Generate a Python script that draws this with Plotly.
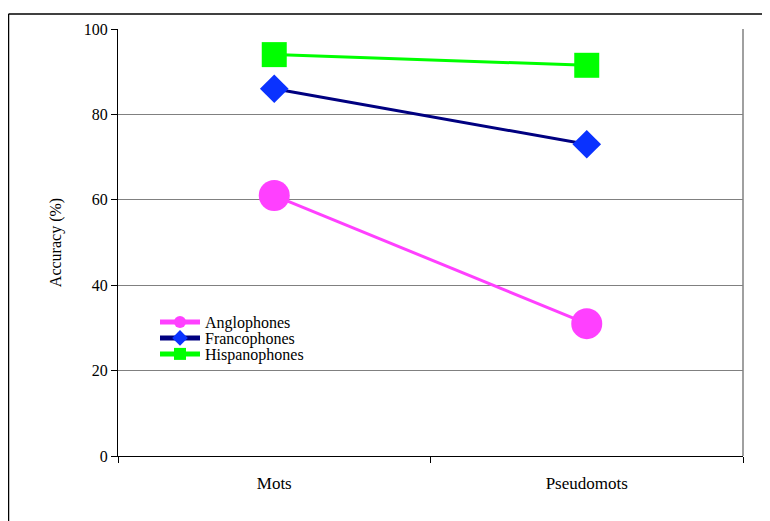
import plotly.graph_objects as go

categories = ["Mots", "Pseudomots"]
anglophones = [61, 31]
francophones = [86, 73]
hispanophones = [94, 91.5]
y_ticks = [0, 20, 40, 60, 80, 100]

# page offset from the default body margin
OFF = 8
W, H = 770 - OFF, 521 - OFF
L, R, T, B = 118 - OFF, 743 - OFF, 29 - OFF, 456 - OFF
pw, ph = R - L, B - T

def px(x):
    return (x - OFF - L) / pw

def py(y):
    return (B - (y - OFF)) / ph

FONT = "'Times New Roman', 'Liberation Serif', 'DejaVu Serif', Times, serif"

fig = go.Figure()
series = [
    ("Anglophones", anglophones, "#FF40FF", "#FF40FF", "circle", 31, "legend"),
    ("Francophones", francophones, "#000080", "#0A32FF", "diamond", 22, "legend2"),
    ("Hispanophones", hispanophones, "#00FF00", "#00FF00", "square", 25, "legend3"),
]
for name, vals, lc, mc, sym, size, leg in series:
    fig.add_trace(go.Scatter(
        x=categories, y=vals, name=name, mode="lines+markers",
        line=dict(color=lc, width=3),
        marker=dict(color=mc, symbol=sym, size=size, line=dict(width=0)),
        legend=leg,
    ))

legend_common = dict(
    font=dict(family=FONT, size=16, color="#000000"),
    bgcolor="rgba(0,0,0,0)", borderwidth=0,
    xanchor="left", yanchor="middle", itemsizing="constant",
    itemwidth=40, tracegroupgap=0,
)
fig.update_layout(
    legend=dict(x=px(155), y=py(322), **legend_common),
    legend2=dict(x=px(155), y=py(338), **legend_common),
    legend3=dict(x=px(155), y=py(354), **legend_common),
)

fig.update_layout(
    width=W, height=H,
    margin=dict(l=L, r=W - R, t=T, b=H - B, autoexpand=False),
    paper_bgcolor="white", plot_bgcolor="white",
    font=dict(family=FONT, size=16, color="#000000"),
    showlegend=True,
    xaxis=dict(
        type="category", range=[-0.5, 1.5],
        showline=True, linecolor="#000000", linewidth=1,
        ticks="outside", ticklen=6, tickcolor="#000000", tickson="boundaries",
        showgrid=False, zeroline=False, ticklabelstandoff=12,
        tickfont=dict(family=FONT, size=17),
    ),
    yaxis=dict(
        range=[0, 100], tickvals=y_ticks,
        showline=True, linecolor="#000000", linewidth=1,
        ticks="outside", ticklen=6, tickcolor="#000000",
        showgrid=True, gridcolor="#808080", gridwidth=1, zeroline=False,
        tickfont=dict(family=FONT, size=16),
        title=dict(text="Accuracy (%)", font=dict(family=FONT, size=16), standoff=18),
    ),
    shapes=[
        dict(type="line", xref="paper", yref="paper", x0=1, x1=1, y0=0, y1=1,
             line=dict(color="#808080", width=1.5)),
        dict(type="line", xref="paper", yref="paper", x0=px(8.5), x1=px(790), y0=py(14), y1=py(14),
             line=dict(color="#000000", width=1.5)),
        dict(type="line", xref="paper", yref="paper", x0=px(8.5), x1=px(8.5), y0=py(14), y1=py(540),
             line=dict(color="#000000", width=1.5)),
    ],
)

fig.write_html("out.html")
